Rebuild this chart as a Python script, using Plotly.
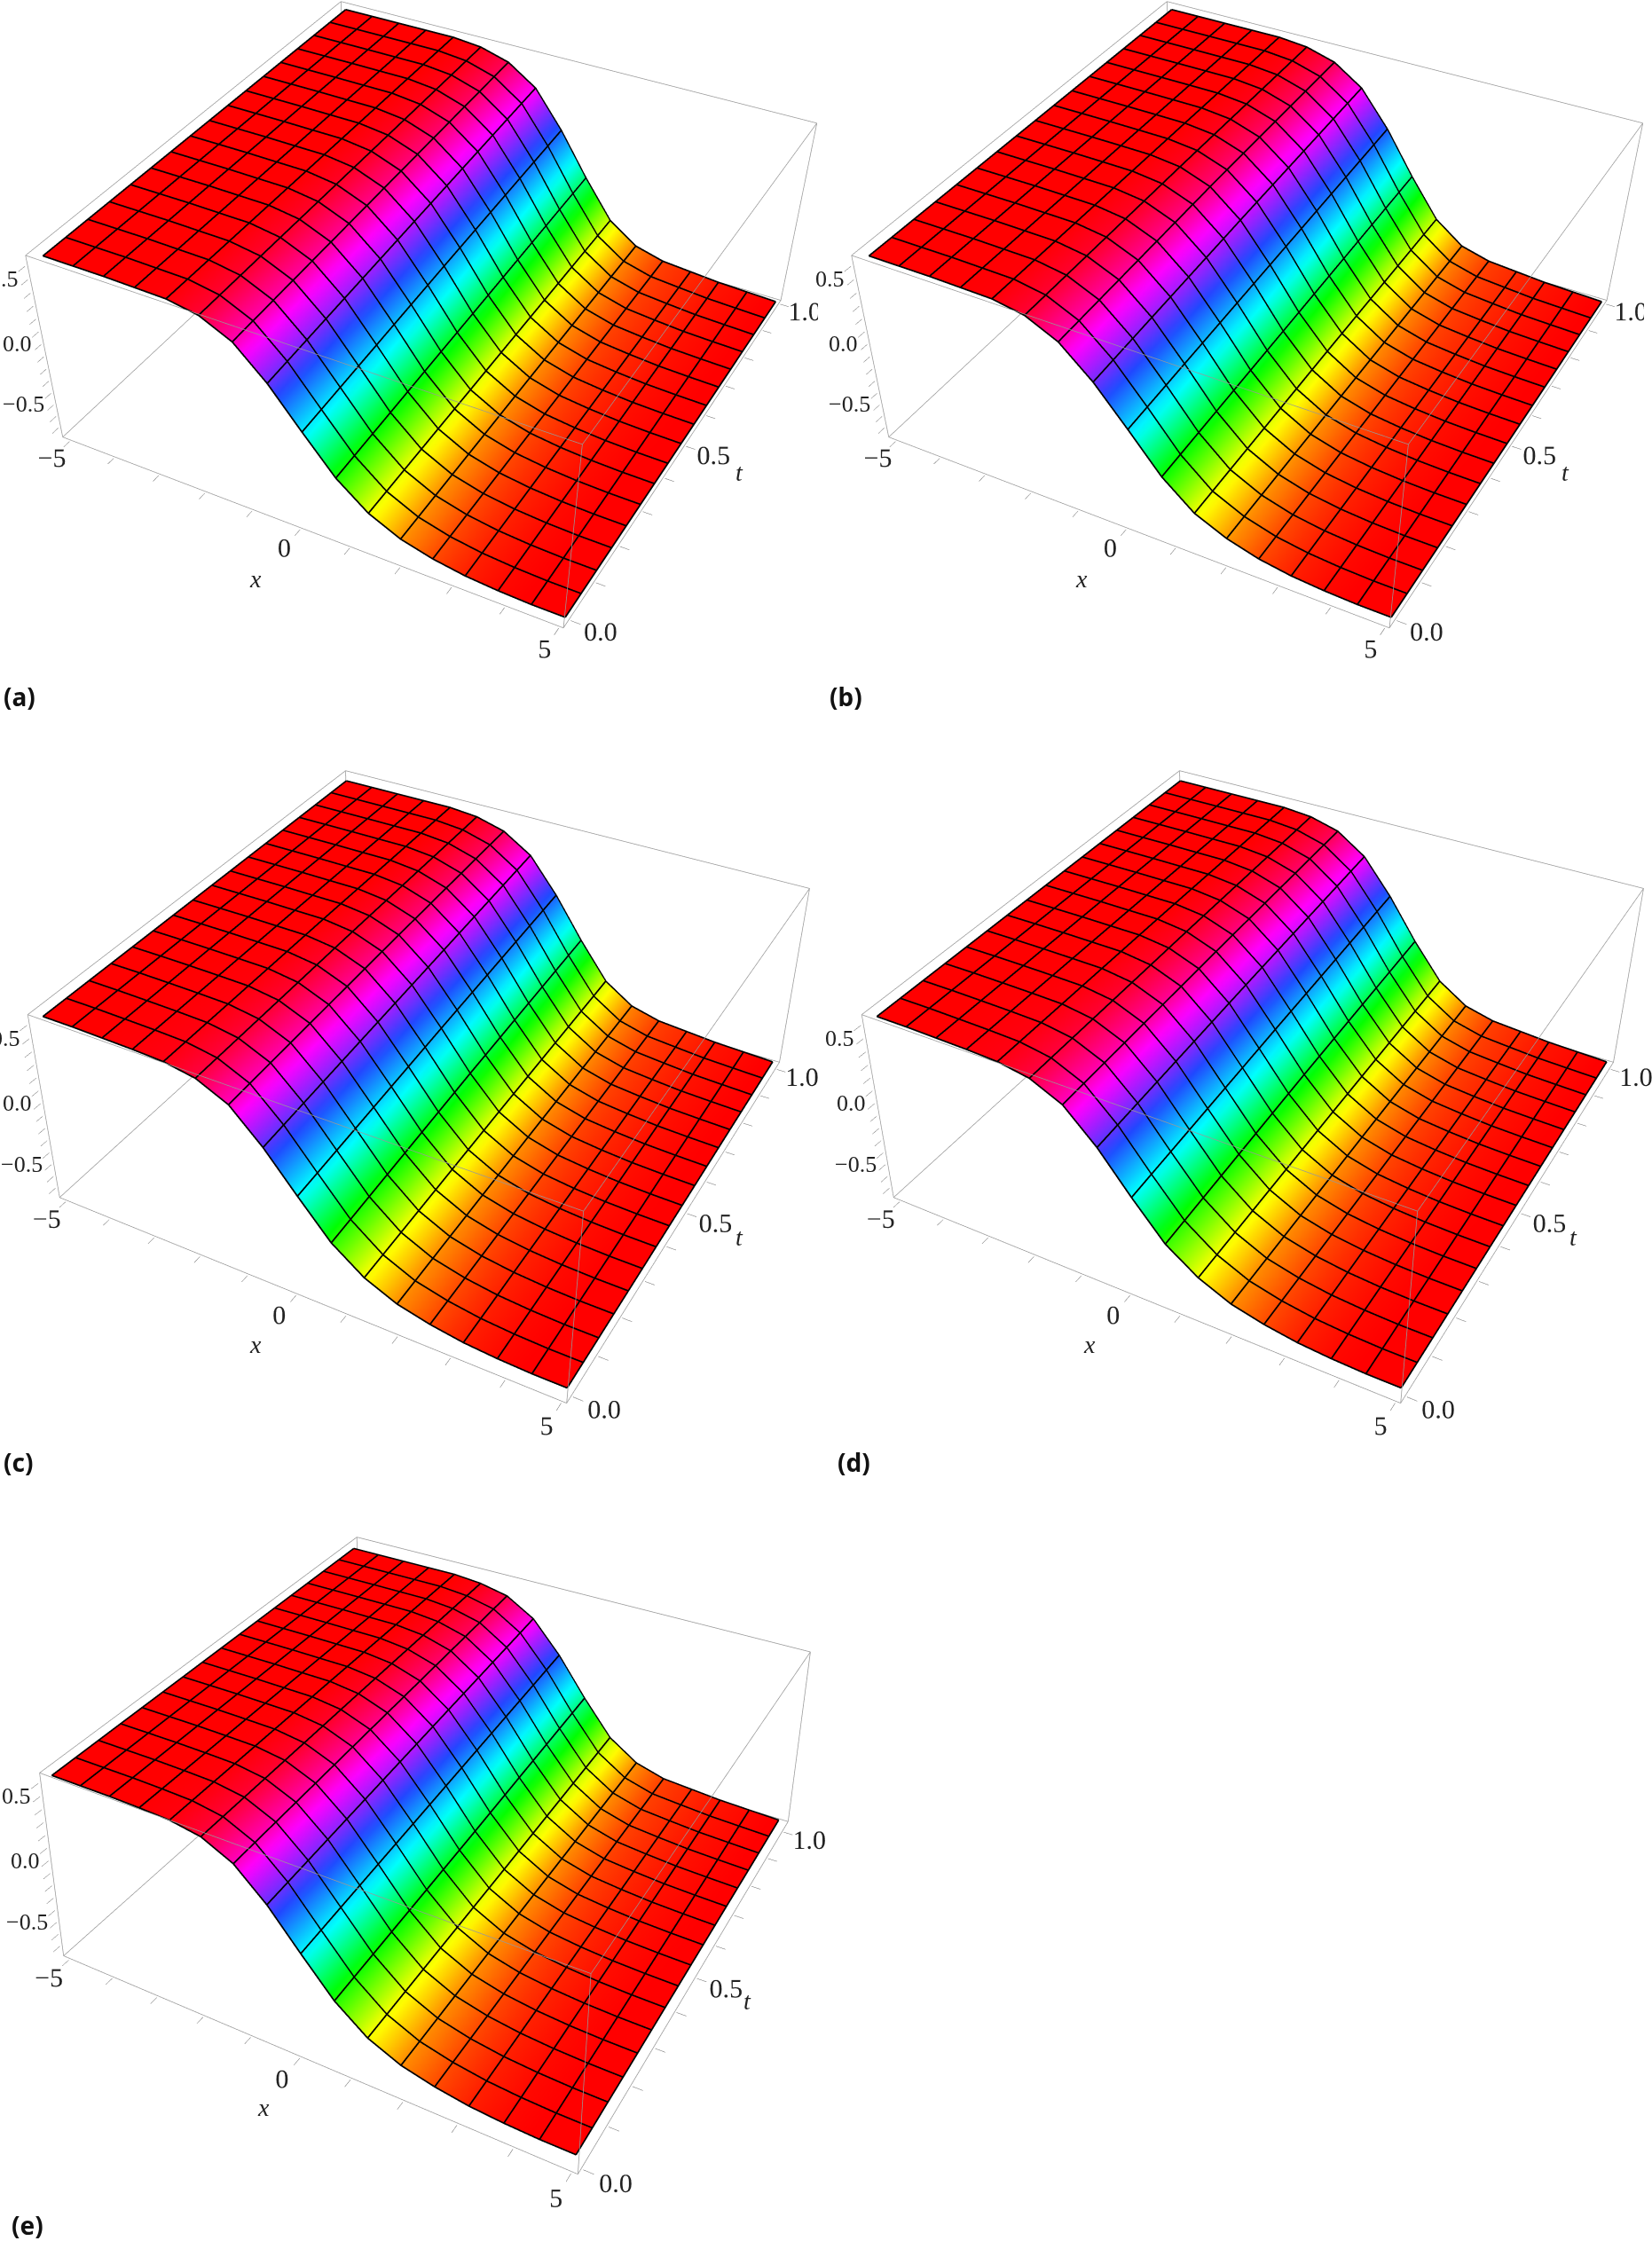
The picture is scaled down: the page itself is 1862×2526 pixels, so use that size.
import numpy as np
import plotly.graph_objects as go

W, H = 1862, 2526

x_nodes = [-5, -4.375, -3.75, -3.125, -2.5, -1.875, -1.25, -0.625, 0, 0.625, 1.25, 1.875, 2.5, 3.125, 3.75, 4.375, 5]
t_nodes = [0, 0.5, 1]
t_mesh = [i / 16 for i in range(17)]

a_t0 = [.67, .67, .67, .665, .66, .62, .51, .29, .01, -.26, -.45, -.565, -.63, -.67, -.69, -.70, -.70]
a_t5 = [.67, .67, .67, .667, .665, .635, .55, .37, .10, -.20, -.44, -.57, -.635, -.665, -.685, -.695, -.70]
a_t1 = [.67, .67, .67, .67, .67, .65, .59, .45, .18, -.14, -.43, -.58, -.64, -.66, -.68, -.69, -.70]

b_t0 = [.67, .67, .67, .665, .66, .62, .51, .30, .03, -.25, -.45, -.56, -.63, -.67, -.69, -.70, -.70]
b_t5 = [.67, .67, .67, .668, .665, .64, .56, .38, .11, -.19, -.43, -.57, -.635, -.665, -.685, -.695, -.70]
b_t1 = [.67, .67, .67, .67, .67, .65, .59, .45, .19, -.13, -.42, -.58, -.64, -.66, -.68, -.69, -.70]

c_t0 = [.67, .67, .665, .66, .65, .61, .50, .27, -.01, -.28, -.46, -.57, -.63, -.67, -.69, -.70, -.70]
c_t5 = [.67, .67, .67, .667, .665, .635, .55, .36, .09, -.20, -.44, -.57, -.635, -.665, -.685, -.695, -.70]
c_t1 = [.67, .67, .67, .67, .67, .65, .59, .45, .18, -.14, -.43, -.58, -.64, -.66, -.68, -.69, -.70]

d_t0 = [.67, .67, .665, .66, .65, .61, .50, .27, -.02, -.29, -.46, -.57, -.63, -.67, -.69, -.70, -.70]
d_t5 = [.67, .67, .67, .667, .665, .635, .55, .36, .08, -.21, -.44, -.57, -.635, -.665, -.685, -.695, -.70]
d_t1 = [.67, .67, .67, .67, .67, .65, .59, .44, .17, -.15, -.43, -.58, -.64, -.66, -.68, -.69, -.70]

e_t0 = [.67, .67, .67, .665, .655, .615, .50, .28, .00, -.27, -.46, -.57, -.63, -.67, -.69, -.70, -.70]
e_t5 = [.67, .67, .67, .667, .665, .635, .55, .37, .10, -.20, -.44, -.57, -.635, -.665, -.685, -.695, -.70]
e_t1 = [.67, .67, .67, .67, .67, .65, .60, .46, .20, -.12, -.41, -.57, -.64, -.66, -.68, -.69, -.70]

panel_names = ["a", "b", "c", "d", "e"]
panel_rows = [[a_t0, a_t5, a_t1], [b_t0, b_t5, b_t1], [c_t0, c_t5, c_t1], [d_t0, d_t5, d_t1], [e_t0, e_t5, e_t1]]
panel_offsets = [(0, 0), (931, 0), (0, 863), (940, 863), (9, 1723)]
CANVAS_W = 922
CANVAS_H = 1500
canvas_tops = [0, 0, 471, 471, 1026]
z_range = [-.79, .68]

# camera eye, centre, aspect, x range, t range, surface top and bottom level
row1_view = [1.2448, -2.4121, 1.8455, 0.2181, -0.5284, -0.5128, 1.1005, 1.1301, 0.4212, -5.2080, 5.1014, -0.0248, 1.0146, 0.6412, -0.7837]
row2_view = [1.2870, -2.4563, 1.9916, -0.0300, -0.0816, -0.0702, 1.1704, 1.1971, 0.4683, -5.1935, 5.1123, -0.0209, 1.0277, 0.6389, -0.7398]
row3_view = [1.2910, -2.4294, 1.9644, -0.1605, 0.1543, 0.4149, 1.1436, 1.1657, 0.4490, -5.1776, 5.1336, -0.0163, 1.0410, 0.6421, -0.7023]
panel_views = [row1_view, row1_view, row2_view, row2_view, row3_view]

x_ticks = [-5, -4, -3, -2, -1, 0, 1, 2, 3, 4, 5]
x_text = ["\u22125", "", "", "", "", "0", "", "", "", "", "5"]
t_ticks = [0, .1, .2, .3, .4, .5, .6, .7, .8, .9, 1]
t_text = ["0.0", "", "", "", "", "0.5", "", "", "", "", "1.0"]
z_ticks = [-.7, -.6, -.5, -.4, -.3, -.2, -.1, 0, .1, .2, .3, .4, .5, .6]
z_labels = [(.5, "0.5"), (0, "0.0"), (-.5, "\u22120.5")]

hue = [[0, "#ff0000"], [1/6, "#ffff00"], [2/6, "#00ff00"], [3/6, "#00ffff"], [4/6, "#2048ff"], [5/6, "#ff00ff"], [1, "#ff0000"]]

fig = go.Figure()
layout = dict(width=W, height=H, margin=dict(l=0, r=0, t=0, b=0), paper_bgcolor="white", showlegend=False, annotations=[])
font = dict(family="Liberation Serif", size=19, color="#222222")
zfont = dict(family="Liberation Serif", size=26, color="#222222")
for i, (name, rows, (ox, oy), top, p) in enumerate(zip(panel_names, panel_rows, panel_offsets, canvas_tops, panel_views)):
    scene = "scene" if i == 0 else f"scene{i+1}"
    x_range = [p[9], p[10]]; t_range = [p[11], p[12]]
    zarr = (np.array(rows) + .70) / 1.37 * (p[13] - p[14]) + p[14]
    ex = .003 * (x_range[1] - x_range[0]); et = .003 * (t_range[1] - t_range[0]); ez = .003 * (z_range[1] - z_range[0])
    xe = [x_range[0] + ex, x_range[1] - ex]; te = [t_range[0] + et, t_range[1] - et]; ze = [z_range[0] + ez, z_range[1] - ez]
    bx, by, bz = [], [], []
    for a in xe:
        for b in te:
            bx += [a, a, None]; by += [b, b, None]; bz += [ze[0], ze[1], None]
    for a in xe:
        for b in ze:
            bx += [a, a, None]; by += [te[0], te[1], None]; bz += [b, b, None]
    for a in te:
        for b in ze:
            bx += [xe[0], xe[1], None]; by += [a, a, None]; bz += [b, b, None]
    fig.add_surface(x=x_nodes, y=t_nodes, z=zarr.tolist(), scene=scene, colorscale=hue, cmin=float(p[14]), cmax=float(p[13]), showscale=False,
                    hoverinfo="skip", lighting=dict(ambient=1, diffuse=0, specular=0, roughness=1, fresnel=0))
    lx, ly, lz = [], [], []
    for k, xv in enumerate(x_nodes):
        lx += [xv] * len(t_mesh) + [None]
        ly += t_mesh + [None]
        lz += list(np.interp(t_mesh, t_nodes, zarr[:, k]) + .004) + [None]
    for tv in t_mesh:
        lx += x_nodes + [None]
        ly += [tv] * len(x_nodes) + [None]
        lz += [float(np.interp(tv, t_nodes, zarr[:, k])) + .004 for k in range(len(x_nodes))] + [None]
    fig.add_scatter3d(x=lx, y=ly, z=lz, mode="lines", scene=scene, line=dict(color="black", width=3.5), hoverinfo="skip", showlegend=False)
    fig.add_scatter3d(x=bx, y=by, z=bz, mode="lines", scene=scene, line=dict(color="#989898", width=1.5), hoverinfo="skip", showlegend=False)
    ax = dict(showbackground=False, showgrid=False, zeroline=False, showline=False,
              ticks="outside", ticklen=9, tickcolor="#666666", tickfont=font, showspikes=False, title="", tickangle=0)
    layout[scene] = dict(
        domain=dict(x=[ox / W, min(ox + CANVAS_W, W) / W], y=[1 - (top + CANVAS_H) / H, 1 - top / H]),
        aspectmode="manual", aspectratio=dict(x=p[6], y=p[7], z=p[8]),
        camera=dict(eye=dict(x=p[0], y=p[1], z=p[2]), up=dict(x=0, y=0, z=1), center=dict(x=p[3], y=p[4], z=p[5])),
        xaxis=dict(ax, range=x_range, tickmode="array", tickvals=x_ticks, ticktext=x_text),
        yaxis=dict(ax, range=t_range, tickmode="array", tickvals=t_ticks, ticktext=t_text),
        zaxis=dict(ax, range=z_range, tickmode="array", tickvals=z_ticks, ticktext=[""] * len(z_ticks)),
        annotations=[dict(x=xe[0], y=te[0], z=zv, text=zt, showarrow=False, xanchor="right", yanchor="middle", xshift=-11, font=zfont) for zv, zt in z_labels],
    )
    layout["annotations"] += [
        dict(text=f"<b>({name})</b>", x=(ox + 2) / W, y=1 - (oy + 785) / H, xref="paper", yref="paper", xanchor="left", yanchor="middle", showarrow=False,
             font=dict(family="Noto Sans", size=28, color="#111111")),
        dict(text="<i>x</i>", x=(ox + 288) / W, y=1 - (oy + 652) / H, xref="paper", yref="paper", xanchor="center", yanchor="middle", showarrow=False, font=dict(family="Liberation Serif", size=28, color="#222222")),
        dict(text="<i>t</i>", x=(ox + 833) / W, y=1 - (oy + 532) / H, xref="paper", yref="paper", xanchor="center", yanchor="middle", showarrow=False, font=dict(family="Liberation Serif", size=28, color="#222222")),
    ]
    if ox > 0:
        mw = min(ox, 28)
        layout["annotations"].append(dict(text="\u00a0", x=ox / W, y=1 - (oy + 311) / H, xref="paper", yref="paper", xanchor="right", yanchor="middle", showarrow=False,
                                         width=mw, height=30, bgcolor="white", borderpad=0, font=dict(size=10)))
fig.update_layout(**layout)
fig.write_html("out.html", post_script="document.body.style.margin='0';", config=dict(displayModeBar=False))
